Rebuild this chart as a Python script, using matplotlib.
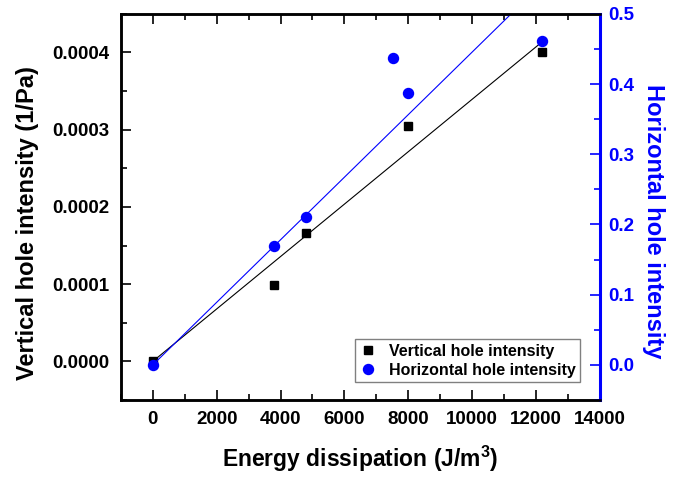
import numpy as np
import matplotlib
matplotlib.use("Agg")
import matplotlib.pyplot as plt
from matplotlib.ticker import MultipleLocator, FormatStrFormatter

plt.rcParams['font.family'] = ['Liberation Sans', 'DejaVu Sans']
plt.rcParams['font.weight'] = 'bold'
plt.rcParams['mathtext.fontset'] = 'custom'
plt.rcParams['mathtext.bf'] = 'Liberation Sans:bold'
plt.rcParams['mathtext.rm'] = 'Liberation Sans:bold'

# Energy dissipation (J/m^3) and hole intensities
energy_v = np.array([0, 3780, 4800, 8000, 12200])
vertical = np.array([0.0, 0.0000983, 0.000166, 0.000305, 0.000400])

energy_h = np.array([0, 3780, 4800, 7530, 8000, 12200])
horizontal = np.array([0.0, 0.169, 0.211, 0.437, 0.388, 0.461])

# Linear fits through the origin
slope_v = np.sum(energy_v * vertical) / np.sum(energy_v ** 2)
slope_h = np.sum(energy_h * horizontal) / np.sum(energy_h ** 2)
fit_x = np.array([0, energy_v.max()])

fig = plt.figure(figsize=(6.87, 4.79), dpi=100)
ax = fig.add_axes([0.176, 0.165, 0.697, 0.806])
ax2 = ax.twinx()

ax.plot(fit_x, slope_v * fit_x, color='black', lw=0.8, zorder=2)
sq, = ax.plot(energy_v, vertical, 's', color='black', ms=6.2, zorder=3,
              label='Vertical hole intensity')

ax2.plot(fit_x, slope_h * fit_x, color='blue', lw=0.8, zorder=2)
ci, = ax2.plot(energy_h, horizontal, 'o', color='blue', ms=7.2, zorder=3,
               label='Horizontal hole intensity')

ax.set_xlim(-1000, 14000)
ax.set_ylim(-0.00005, 0.00045)
ax2.set_ylim(-0.05, 0.5)

ax.xaxis.set_major_locator(MultipleLocator(2000))
ax.xaxis.set_minor_locator(MultipleLocator(1000))
ax.yaxis.set_major_locator(MultipleLocator(0.0001))
ax.yaxis.set_minor_locator(MultipleLocator(0.00005))
ax.yaxis.set_major_formatter(FormatStrFormatter('%.4f'))
ax2.yaxis.set_major_locator(MultipleLocator(0.1))
ax2.yaxis.set_minor_locator(MultipleLocator(0.05))
ax2.yaxis.set_major_formatter(FormatStrFormatter('%.1f'))

for a in (ax, ax2):
    for s in a.spines.values():
        s.set_linewidth(1.8)

ax.tick_params(axis='both', which='both', direction='in', labelsize=13.5,
               top=True, right=False, width=1.2)
ax.tick_params(which='major', length=7)
ax.tick_params(which='minor', length=4)
ax.tick_params(axis='x', pad=8)
ax.tick_params(axis='y', pad=8)

ax2.spines['right'].set_color('blue')
ax2.spines['right'].set_linewidth(2.2)
ax2.tick_params(axis='y', which='both', direction='in', colors='blue',
                labelsize=13.5, width=1.2, pad=6)
ax2.tick_params(which='major', length=7)
ax2.tick_params(which='minor', length=4)

for lab in ax.get_xticklabels() + ax.get_yticklabels() + ax2.get_yticklabels():
    lab.set_fontweight('bold')

ax.set_xlabel(r'Energy dissipation (J/m$^{\mathbf{3}}$)', fontsize=16.5,
              fontweight='bold', labelpad=11)
ax.set_ylabel('Vertical hole intensity (1/Pa)', fontsize=17,
              fontweight='bold', labelpad=10)
ax2.set_ylabel('Horizontal hole intensity', fontsize=17, fontweight='bold',
               color='blue', rotation=270, labelpad=22)
ax.yaxis.label.set_y(0.457)
ax2.yaxis.label.set_y(0.462)

leg = ax2.legend(handles=[sq, ci], loc='lower right',
                 bbox_to_anchor=(0.976, 0.025),
                 prop={'weight': 'bold', 'size': 11.5}, fancybox=False,
                 framealpha=1, edgecolor='gray', handlelength=1.0,
                 handletextpad=0.8, borderpad=0.3, labelspacing=0.25)
leg.get_frame().set_linewidth(1.0)

fig.savefig('out.png', dpi=100)
